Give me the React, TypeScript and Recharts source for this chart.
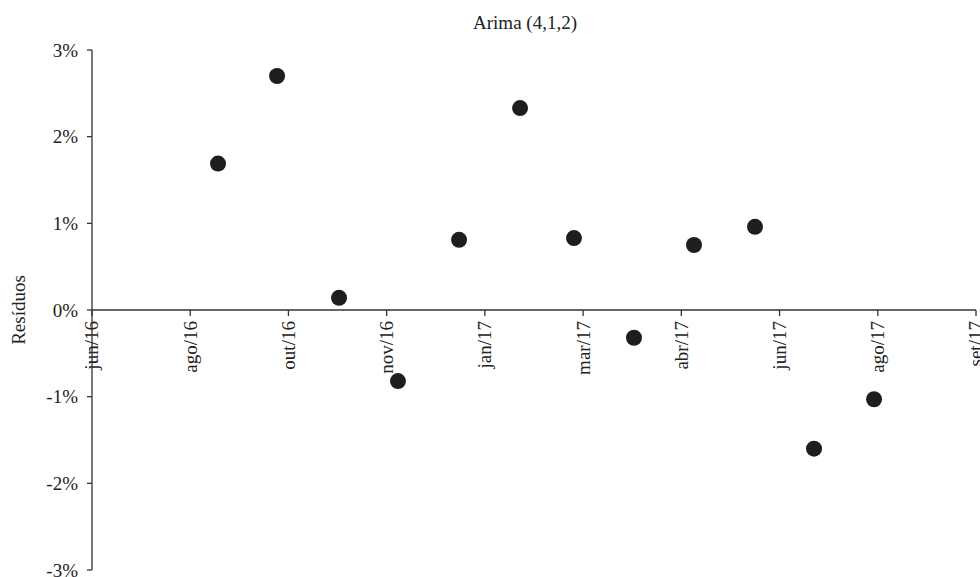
import React from 'react';
import { ScatterChart, Scatter, XAxis, YAxis, ReferenceLine } from 'recharts';

// x positions (in tick-interval units from jun/16) and residuals (%)
const pointX = [1.283, 1.884, 2.515, 3.115, 3.737, 4.358, 4.907, 5.518, 6.129, 6.75, 7.351, 7.962];
const residuals = [1.69, 2.7, 0.14, -0.82, 0.81, 2.33, 0.83, -0.32, 0.75, 0.96, -1.6, -1.03];
const xTickLabels = ['jun/16', 'ago/16', 'out/16', 'nov/16', 'jan/17', 'mar/17', 'abr/17', 'jun/17', 'ago/17', 'set/17'];
const yTicks = [-3, -2, -1, 0, 1, 2, 3];

const data = pointX.map((x, i) => ({ x, y: residuals[i] }));

const FONT = '"Liberation Serif", "Times New Roman", serif';
const FS = 19;
const INK = '#222';
const AXIS = '#333';

const TickLabel = (props: any) => {
  const vb = props.viewBox || {};
  const x = vb.x;
  const y = vb.y + (vb.height || 0) + 5;
  return (
    <text
      x={x}
      y={y}
      transform={`rotate(-90, ${x}, ${y})`}
      textAnchor="end"
      dominantBaseline="central"
      fontSize={FS}
      fontFamily={FONT}
      fill={INK}
    >
      {props.text}
    </text>
  );
};

const YLabel = (props: any) => {
  const vb = props.viewBox || {};
  const x = vb.x + 18;
  const y = vb.y + vb.height / 2;
  return (
    <text
      x={x}
      y={y}
      transform={`rotate(-90, ${x}, ${y})`}
      textAnchor="middle"
      dominantBaseline="central"
      fontSize={FS}
      fontFamily={FONT}
      fill={INK}
    >
      Resíduos
    </text>
  );
};

const Dot = (props: any) => <circle cx={props.cx} cy={props.cy} r={8} fill="#1e1e1e" />;

export default function App() {
  return (
    <div style={{ position: 'absolute', left: 0, top: 0, width: 980, height: 577, background: '#fff' }}>
      <div
        style={{
          position: 'absolute',
          left: 525,
          top: 12,
          transform: 'translateX(-50%)',
          fontFamily: FONT,
          fontSize: FS,
          color: INK,
          whiteSpace: 'nowrap',
        }}
      >
        Arima (4,1,2)
      </div>
      <ScatterChart width={980} height={577} margin={{ top: 50, right: 4, bottom: 7, left: 0 }}>
        <XAxis type="number" dataKey="x" domain={[0, 9]} hide />
        <YAxis
          type="number"
          dataKey="y"
          domain={[-3, 3]}
          ticks={yTicks}
          width={92}
          interval={0}
          tickFormatter={(v: number) => `${v}%`}
          tick={{ fontSize: FS, fontFamily: FONT, fill: INK }}
          tickSize={5}
          tickMargin={9}
          axisLine={{ stroke: AXIS, strokeWidth: 1.3 }}
          tickLine={{ stroke: AXIS, strokeWidth: 1.3 }}
          label={<YLabel />}
        />
        <ReferenceLine y={0} stroke={AXIS} strokeWidth={1.3} />
        {xTickLabels.map((t, i) => (
          <ReferenceLine
            key={t + i}
            segment={[{ x: i, y: 0 }, { x: i, y: -0.07 }]}
            stroke={AXIS}
            strokeWidth={1.3}
            label={<TickLabel text={t} />}
          />
        ))}
        <Scatter data={data} shape={<Dot />} isAnimationActive={false} />
      </ScatterChart>
    </div>
  );
}
